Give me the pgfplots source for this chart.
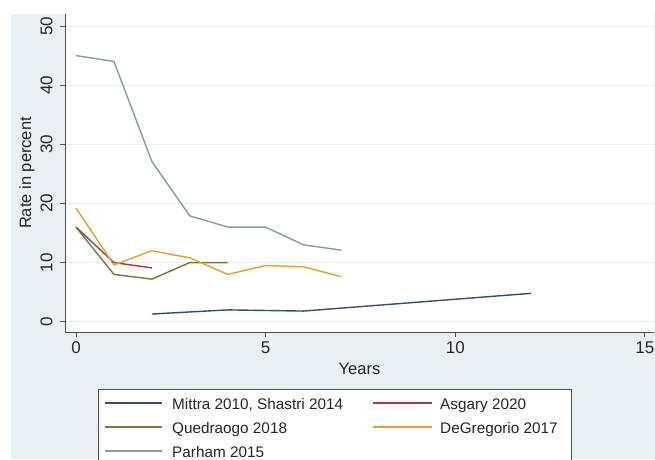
\documentclass[border=0pt]{standalone}
\usepackage{pgfplots}
\pgfplotsset{compat=1.18}
\usepackage{fontspec}
\setmainfont{Liberation Sans}

\definecolor{graphbg}{RGB}{232,240,243}
\definecolor{gridc}{RGB}{236,238,238}
\definecolor{spinec}{RGB}{80,80,80}
\definecolor{cnavy}{RGB}{52,78,108}
\definecolor{cmaroon}{RGB}{160,62,78}
\definecolor{cgreen}{RGB}{104,128,62}
\definecolor{corange}{RGB}{232,160,48}
\definecolor{cteal}{RGB}{138,156,156}

\begin{document}
\begin{tikzpicture}[x=1pt,y=1pt]
\useasboundingbox (0,0) rectangle (655,459);
\clip (0,0) rectangle (655,459);
\fill[white] (0,0) rectangle (655,459);
\fill[graphbg] (11,0) rectangle (700,445);
\begin{axis}[
  at={(65pt,127pt)}, anchor=south west,
  scale only axis, width=589pt, height=318pt,
  xmin=-0.29, xmax=15.24, ymin=-1.74, ymax=52.03,
  axis lines=left, axis line style={-, draw=spinec, line width=0.9pt},
  axis background/.style={fill=white},
  xtick={0,5,10,15}, ytick={0,10,20,30,40,50},
  tick align=outside, major tick length=5pt,
  tick style={draw=spinec, line width=0.9pt},
  ymajorgrids, grid style={draw=gridc, line width=1pt},
  ticklabel style={font=\fontsize{17}{20}\selectfont, text=black!85},
  /pgf/number format/assume math mode=true,
  xticklabel style={yshift=-1pt},
  yticklabel style={rotate=90, anchor=south},
  yticklabel shift=4pt,
  xlabel={Years}, ylabel={Rate in percent},
  label style={font=\fontsize{16.5}{19}\selectfont, text=black!85},
  xlabel style={yshift=-3pt},
  ylabel style={yshift=-1pt},
  every axis plot/.append style={line width=1.4pt, line join=round, mark=none},
]
% Mittra 2010, Shastri 2014
\addplot[draw=cnavy] coordinates {(2,1.3) (4,2.0) (6,1.8) (12,4.8)};
% Asgary 2020
\addplot[draw=cmaroon] coordinates {(0,16) (1,10.0) (2,9.1)};
% Quedraogo 2018
\addplot[draw=cgreen] coordinates {(0,16) (1,8.0) (2,7.2) (3,10.0) (4,10.0)};
% DeGregorio 2017
\addplot[draw=corange] coordinates {(0,19.2) (1,9.6) (2,12.0) (3,10.8) (4,8.0) (5,9.5) (6,9.3) (7,7.6)};
% Parham 2015
\addplot[draw=cteal] coordinates {(0,45) (1,44) (2,27.1) (3,17.9) (4,16) (5,16) (6,13) (7,12.1)};
\end{axis}

% key below the plot, two columns
\filldraw[fill=white, draw=spinec, line width=0.8pt] (98,70) rectangle (571,-10);
\begin{scope}[line width=1.3pt]
  \draw[cnavy]   (105,56) -- (162,56);
  \draw[cmaroon] (373,56) -- (432,56);
  \draw[cgreen]  (105,32) -- (162,32);
  \draw[corange] (373,32) -- (432,32);
  \draw[cteal]   (105,8)  -- (162,8);
\end{scope}
\begin{scope}[every node/.style={anchor=base west, inner sep=0pt,
    font=\fontsize{15.3}{18}\selectfont, text=black!85}]
  \node at (172,50) {Mittra 2010, Shastri 2014};
  \node at (440,50) {Asgary 2020};
  \node at (172,26) {Quedraogo 2018};
  \node at (440,26) {DeGregorio 2017};
  \node at (172,2)  {Parham 2015};
\end{scope}
\end{tikzpicture}
\end{document}
